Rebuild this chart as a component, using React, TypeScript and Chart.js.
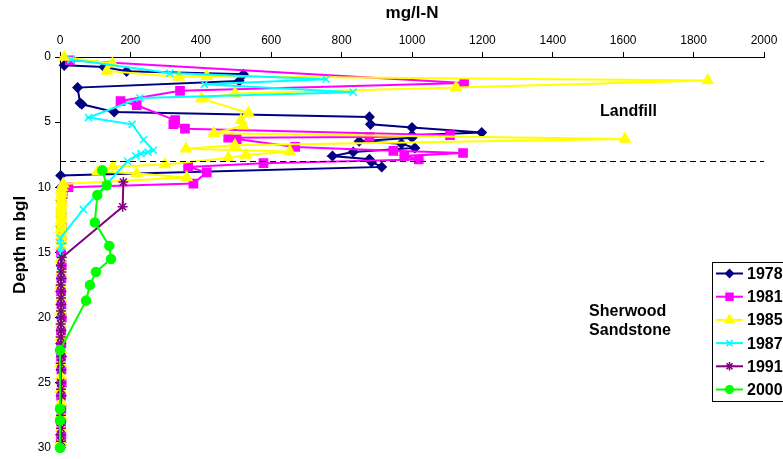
import React, { useEffect, useRef } from "react";
import { Chart, registerables } from "chart.js";
import { drawPoint } from "chart.js/helpers";

Chart.register(...registerables);

// Nitrate-N (mg/l-N) against depth (m below ground level), one profile per survey year
const years = ["1978", "1981", "1985", "1987", "1991", "2000"];

const depth1978 = [0.64, 0.77, 1.1, 1.33, 1.84, 2.35, 3.53, 3.63, 4.22, 4.6, 5.17, 5.42, 5.8, 6.0, 6.2, 6.47, 6.65, 6.98, 7.29, 7.6, 7.85, 8.06, 8.44, 9.1, 10, 11, 12, 13, 14, 15, 16, 17, 18, 19, 20, 21, 22, 23, 24, 25, 26, 27, 28, 29, 29.6];
const conc1978 = [12, 125, 189, 521, 509, 50, 57, 62, 154, 879, 882, 1000, 1198, 1000, 1000, 850, 970, 1008, 833, 774, 879, 885, 914, 2, 3, 2, 4, 2, 3, 2, 3, 4, 2, 3, 2, 3, 2, 4, 3, 2, 3, 2, 3, 2, 3];

const depth1981 = [0.25, 2.0, 2.6, 3.38, 3.7, 4.85, 5.15, 5.5, 6.0, 6.14, 6.2, 6.3, 6.9, 7.2, 7.37, 7.6, 7.87, 8.15, 8.44, 8.85, 9.72, 10.0, 10.5, 11, 12, 13, 14, 15, 16, 17, 18, 19, 20, 21, 22, 23, 24, 25, 26, 27, 28, 29, 29.5];
const conc1981 = [28, 1148, 341, 172, 218, 327, 322, 355, 1108, 879, 478, 502, 668, 947, 1145, 978, 1019, 578, 364, 417, 379, 24, 8, 5, 4, 5, 4, 3, 5, 4, 3, 4, 5, 3, 4, 3, 4, 5, 3, 4, 3, 4, 3];

const depth1985 = [0.0, 0.5, 1.07, 1.53, 1.48, 1.8, 2.35, 2.8, 3.2, 4.3, 4.85, 5.28, 5.86, 6.3, 6.78, 7.05, 7.25, 7.52, 7.75, 8.25, 8.42, 8.8, 8.95, 9.25, 9.75, 10.0, 10.25, 10.5, 10.75, 11.0, 11.25, 11.5, 11.75, 12.0, 12.25, 12.5, 12.75, 13.0, 13.25, 13.5, 13.75, 14.0, 14.5, 15.5, 16.5, 17.5, 18.5, 19.5, 20.5, 21.5, 22.5, 23.5, 24.5, 25.5, 26.5, 27.5, 28.5, 29.5];
const conc1985 = [12, 149, 133, 338, 417, 1840, 1125, 497, 402, 535, 514, 520, 437, 1605, 497, 358, 653, 528, 478, 298, 150, 107, 218, 360, 9, 6, 4, 5, 3, 4, 5, 3, 4, 3, 5, 4, 3, 4, 3, 4, 3, 4, 3, 2, 3, 2, 3, 2, 3, 2, 3, 2, 3, 2, 3, 2, 3, 2];

const depth1987 = [0.2, 1.23, 1.7, 2.1, 2.7, 3.15, 4.65, 5.17, 6.35, 7.16, 7.3, 7.42, 7.6, 8.0, 11.7, 13.9, 14.5, 15, 15.5, 16, 16.5, 17, 17.5, 18, 18.5, 19, 19.5, 20, 20.5, 21, 22, 23, 24, 25, 26, 27, 28, 29, 29.5];
const conc1987 = [31, 312, 756, 410, 833, 227, 81, 205, 237, 265, 250, 230, 215, 192, 66, 1, 3, 2, 3, 4, 2, 3, 2, 4, 3, 2, 3, 2, 3, 2, 3, 2, 3, 2, 3, 2, 3, 2, 3];

const depth1991 = [9.6, 11.5, 15.4, 16, 16.5, 17, 17.5, 18, 18.5, 19, 19.5, 20, 20.5, 21, 21.5, 22, 23, 23.5, 24, 25, 25.5, 26, 27, 27.5, 28, 28.5, 29, 29.5, 30];
const conc1991 = [180, 178, 5, 3, 4, 3, 2, 4, 3, 2, 3, 4, 2, 3, 2, 3, 4, 2, 3, 2, 3, 4, 2, 3, 2, 3, 2, 3, 2];

const depth2000 = [8.7, 9.85, 10.6, 12.7, 14.5, 15.5, 16.5, 17.5, 18.7, 22.5, 27.0, 27.9, 30];
const conc2000 = [120, 133, 106, 99, 140, 145, 102, 85, 74, 0, 0, 0, 0];

const depths = [depth1978, depth1981, depth1985, depth1987, depth1991, depth2000];
const concs = [conc1978, conc1981, conc1985, conc1987, conc1991, conc2000];

// Base of the landfill (m bgl)
const landfillBase = 8;

const FONT = "'Liberation Sans', Arial, Helvetica, sans-serif";

const seriesStyles = [
  { color: "#000080", pointStyle: "rectRot", radius: 4.5 },
  { color: "#FF00FF", pointStyle: "rect", radius: 5.8 },
  { color: "#FFFF00", pointStyle: "triangle", radius: 6 },
  { color: "#00FFFF", pointStyle: "crossRot", radius: 5 },
  { color: "#800080", pointStyle: "star", radius: 5 },
  { color: "#00FF00", pointStyle: "circle", radius: 4.5 },
];

const zoneLabels = [
  { text: "Landfill", x: 1615, y: 4.22, align: "center" as CanvasTextAlign },
  { text: "Sherwood", x: 1503, y: 19.57, align: "left" as CanvasTextAlign },
  { text: "Sandstone", x: 1503, y: 21.03, align: "left" as CanvasTextAlign },
];

const overlayPlugin = {
  id: "profileOverlay",
  afterDatasetsDraw(chart: any) {
    const { ctx, scales } = chart;
    const x = scales.x;
    const y = scales.y;
    ctx.save();

    // landfill base boundary
    const yb = Math.round(y.getPixelForValue(landfillBase)) + 0.5;
    ctx.strokeStyle = "#000";
    ctx.lineWidth = 1;
    ctx.setLineDash([6, 4]);
    ctx.beginPath();
    ctx.moveTo(x.left, yb);
    ctx.lineTo(x.right, yb);
    ctx.stroke();
    ctx.setLineDash([]);

    // zone labels
    ctx.font = `bold 16px ${FONT}`;
    ctx.fillStyle = "#000";
    ctx.textBaseline = "middle";
    zoneLabels.forEach((l) => {
      ctx.textAlign = l.align;
      ctx.fillText(l.text, x.getPixelForValue(l.x), y.getPixelForValue(l.y));
    });

    // depth axis title
    ctx.save();
    ctx.translate(20, 245);
    ctx.rotate(-Math.PI / 2);
    ctx.font = `bold 17px ${FONT}`;
    ctx.textAlign = "center";
    ctx.textBaseline = "middle";
    ctx.fillText("Depth m bgl", 0, 0);
    ctx.restore();

    // legend
    const boxL = 712.5;
    const boxT = 262.5;
    const boxH = 139;
    ctx.fillStyle = "#fff";
    ctx.fillRect(boxL, boxT, 90, boxH);
    ctx.strokeStyle = "#000";
    ctx.lineWidth = 1;
    ctx.strokeRect(boxL, boxT, 90, boxH);
    years.forEach((yr, i) => {
      const s = seriesStyles[i];
      const cy = 273.5 + i * 23.2;
      ctx.strokeStyle = s.color;
      ctx.lineWidth = 2;
      ctx.beginPath();
      ctx.moveTo(716, cy);
      ctx.lineTo(743, cy);
      ctx.stroke();
      ctx.fillStyle = s.color;
      ctx.strokeStyle = s.color;
      ctx.lineWidth = 1.5;
      drawPoint(ctx, { pointStyle: s.pointStyle as any, radius: s.radius * 0.85, rotation: 0, borderWidth: 1.5 }, 729.5, cy);
      ctx.fillStyle = "#000";
      ctx.font = `bold 16px ${FONT}`;
      ctx.textAlign = "left";
      ctx.textBaseline = "middle";
      ctx.fillText(yr, 747, cy + 1);
    });

    ctx.restore();
  },
};

export default function App() {
  const canvasRef = useRef<HTMLCanvasElement>(null);

  useEffect(() => {
    document.body.style.margin = "0";
    const canvas = canvasRef.current;
    if (!canvas) return;

    const datasets = years.map((yr, i) => {
      const s = seriesStyles[i];
      return {
        label: yr,
        data: depths[i].map((d, k) => ({ x: concs[i][k], y: d })),
        showLine: true,
        borderColor: s.color,
        backgroundColor: s.color,
        borderWidth: 2,
        pointStyle: s.pointStyle,
        pointRadius: s.radius,
        pointBorderWidth: 1.5,
        pointBorderColor: s.color,
        pointBackgroundColor: s.color,
        tension: 0,
        clip: false,
        order: years.length - i,
      };
    });

    const chart = new Chart(canvas, {
      type: "scatter",
      data: { datasets },
      plugins: [overlayPlugin],
      options: {
        responsive: false,
        animation: false,
        events: [],
        layout: { padding: { left: 0, top: 0, right: 19, bottom: 11 } },
        plugins: {
          legend: { display: false },
          tooltip: { enabled: false },
        },
        scales: {
          x: {
            type: "linear",
            position: "top",
            min: 0,
            max: 2000,
            afterFit: (scale: any) => {
              scale.height = 57;
            },
            ticks: {
              stepSize: 200,
              color: "#000",
              padding: 4,
              maxRotation: 0,
              font: { family: FONT, size: 12 },
              callback: (v: any) => String(v),
            },
            grid: {
              drawOnChartArea: false,
              drawTicks: true,
              tickLength: 5,
              color: "#000",
            },
            border: { display: true, color: "#000", width: 1 },
            title: {
              display: true,
              text: "mg/l-N",
              color: "#000",
              font: { family: FONT, size: 17, weight: "bold" },
              padding: { top: 3, bottom: 0 },
            },
          },
          y: {
            type: "linear",
            reverse: true,
            min: 0,
            max: 30,
            afterFit: (scale: any) => {
              scale.width = 60;
            },
            ticks: {
              stepSize: 5,
              color: "#000",
              padding: 4,
              font: { family: FONT, size: 12 },
              callback: (v: any) => String(v),
            },
            grid: {
              drawOnChartArea: false,
              drawTicks: true,
              tickLength: 5,
              color: "#000",
            },
            border: { display: true, color: "#000", width: 1 },
            title: { display: false },
          },
        },
      } as any,
    });

    return () => chart.destroy();
  }, []);

  return (
    <div style={{ width: 783, height: 459 }}>
      <canvas ref={canvasRef} width={783} height={459} style={{ display: "block" }} />
    </div>
  );
}
